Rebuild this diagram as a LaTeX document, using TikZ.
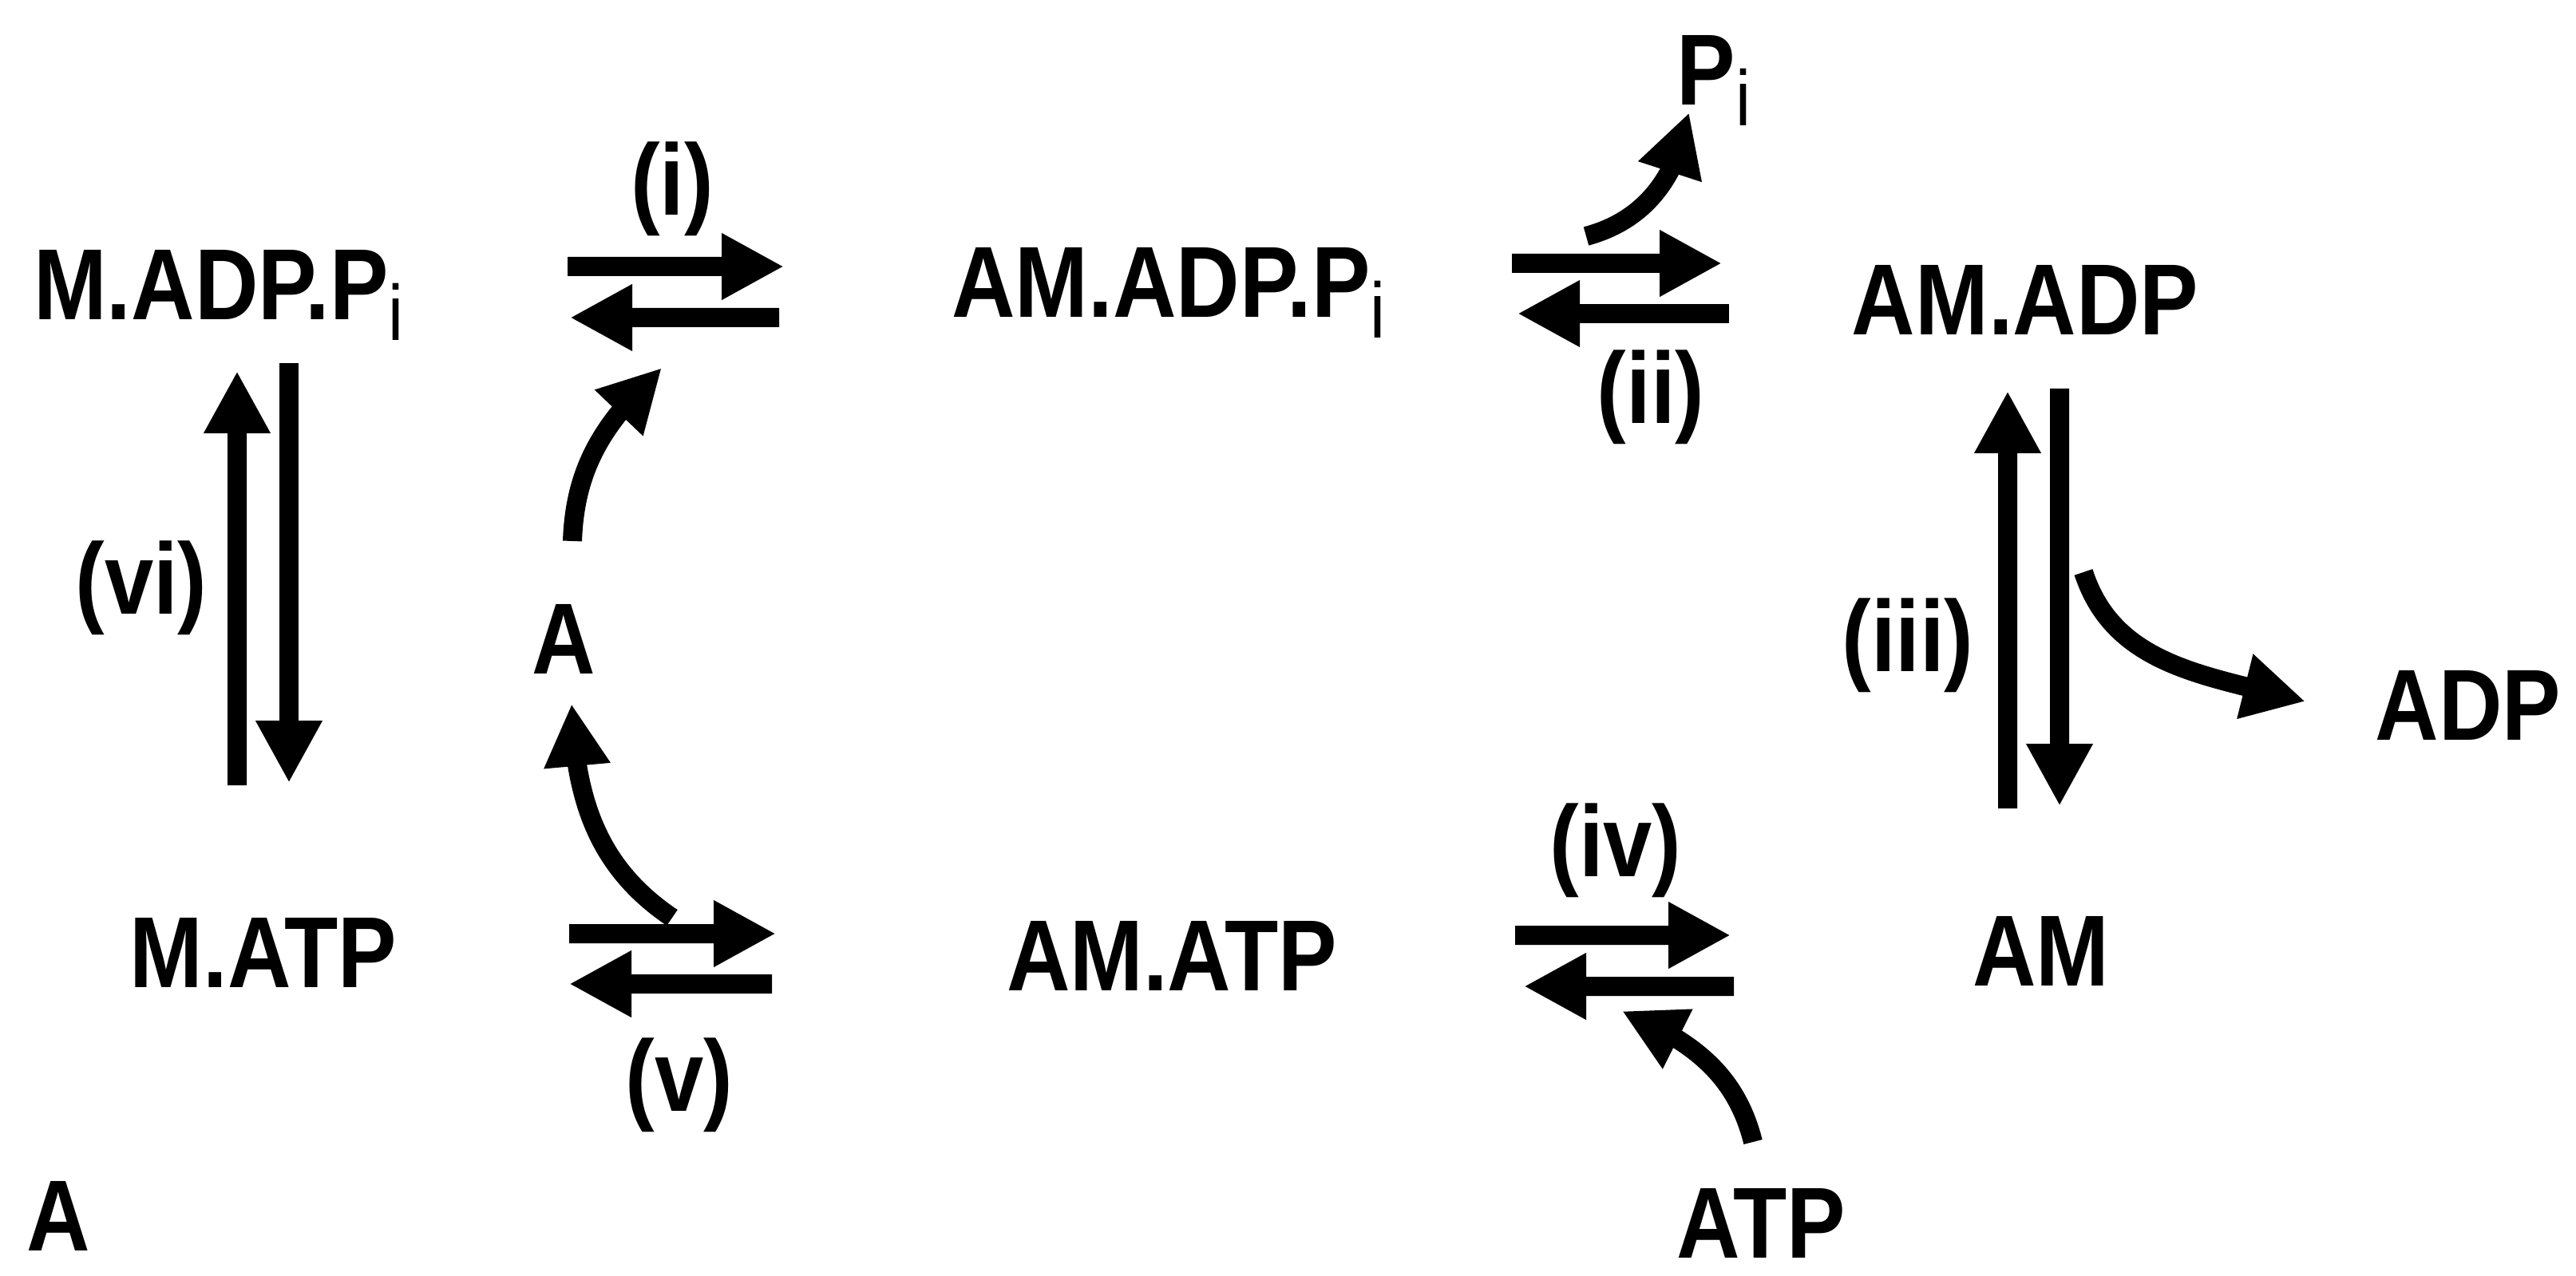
\documentclass[tikz,border=0pt]{standalone}
\usepackage{fontspec}
\newfontfamily\diagfont{Liberation Sans}
\usetikzlibrary{arrows.meta,bending}
\newcommand{\subi}{\raisebox{-0.26cm}{\mdseries\fontsize{28}{30}\selectfont i}}
\newcommand{\narrow}[1]{\scalebox{0.87}[1]{#1}}

\begin{document}
\begin{tikzpicture}[
    species/.style={font=\diagfont\bfseries\fontsize{36}{40}\selectfont,inner sep=0pt,anchor=base},
    rxn/.style={font=\diagfont\bfseries\fontsize{36}{40}\selectfont,inner sep=0pt},
    fwd/.style={line width=0.24cm,-{Triangle[length=7.8mm,width=7.8mm]}},
  ]
  \useasboundingbox (0,0) rectangle (32.27,15.98);
  % states of the cycle
  \node[species] (madpp) at (2.74,11.97) {\narrow{M.ADP.P\subi}};
  \node[species] (amadpp) at (14.64,12.00) {\narrow{AM.ADP.P\subi}};
  \node[species] (amadp) at (25.37,11.78) {\narrow{AM.ADP}};
  \node[species] (matp) at (3.30,3.61) {\narrow{M.ATP}};
  \node[species] (amatp) at (14.68,3.57) {\narrow{AM.ATP}};
  \node[species] (am) at (25.57,3.63) {\narrow{AM}};
  % things going in and out
  \node[species,anchor=base west] (pi) at (21.00,14.66) {\narrow{P\subi}};
  \node[species] (adp) at (30.92,6.71) {\narrow{ADP}};
  \node[species] (atp) at (22.06,0.22) {\narrow{ATP}};
  \node[species] (actin) at (7.06,7.54) {\narrow{A}};
  \node[species] (panel) at (0.73,0.31) {\narrow{A}};
  % step labels
  \node[rxn] (lbli) at (8.42,13.61) {\narrow{(i)}};
  \node[rxn] (lblii) at (20.68,11.00) {\narrow{(ii)}};
  \node[rxn] (lbliii) at (23.90,7.89) {\narrow{(iii)}};
  \node[rxn] (lbliv) at (20.24,5.32) {\narrow{(iv)}};
  \node[rxn] (lblv) at (8.51,2.38) {\narrow{(v)}};
  \node[rxn] (lblvi) at (1.77,8.61) {\narrow{(vi)}};
  % (i)
  \draw[fwd] ([shift={(4.37,0.67)}]madpp.base) -- ([shift={(-4.82,0.64)}]amadpp.base);
  \draw[fwd] ([shift={(-4.88,0)}]amadpp.base) -- ([shift={(4.40,0.03)}]madpp.base);
  % (ii)
  \draw[fwd] ([shift={(4.30,0.68)}]amadpp.base) -- ([shift={(-3.80,0.90)}]amadp.base);
  \draw[fwd] ([shift={(-3.71,0.27)}]amadp.base) -- ([shift={(4.37,0.05)}]amadpp.base);
  % (iii)
  \draw[fwd] ([shift={(-0.42,2.22)}]am.base) -- ([shift={(-0.22,-0.70)}]amadp.base);
  \draw[fwd] ([shift={(0.43,-0.67)}]amadp.base) -- ([shift={(0.23,2.25)}]am.base);
  % (iv)
  \draw[fwd] ([shift={(4.30,0.69)}]amatp.base) -- ([shift={(-3.89,0.63)}]am.base);
  \draw[fwd] ([shift={(-3.85,-0.01)}]am.base) -- ([shift={(4.41,0.05)}]amatp.base);
  % (v)
  \draw[fwd] ([shift={(3.83,0.67)}]matp.base) -- ([shift={(-4.96,0.71)}]amatp.base);
  \draw[fwd] ([shift={(-5.01,0.08)}]amatp.base) -- ([shift={(3.83,0.04)}]matp.base);
  % (vi)
  \draw[fwd] ([shift={(-0.33,2.53)}]matp.base) -- ([shift={(0.23,-0.64)}]madpp.base);
  \draw[fwd] ([shift={(0.88,-0.54)}]madpp.base) -- ([shift={(0.32,2.56)}]matp.base);
  % curved side arrows
  \draw[fwd] ([shift={(0.11,1.66)}]actin.base) to[out=88,in=223] ([shift={(5.55,-0.60)}]madpp.base);
  \draw[fwd] ([shift={(5.12,0.87)}]matp.base) to[out=146,in=272] ([shift={(0.10,-0.38)}]actin.base);
  \draw[fwd] ([shift={(5.23,1.02)}]amadpp.base) to[out=15,in=260] ([shift={(0.16,-0.09)}]pi.base west);
  \draw[fwd] ([shift={(0.73,-2.97)}]amadp.base) to[out=-72,in=165] ([shift={(-2.04,0.48)}]adp.base);
  \draw[fwd] ([shift={(-0.10,1.45)}]atp.base) to[out=104,in=-23] ([shift={(5.64,-0.26)}]amatp.base);
\end{tikzpicture}
\end{document}
